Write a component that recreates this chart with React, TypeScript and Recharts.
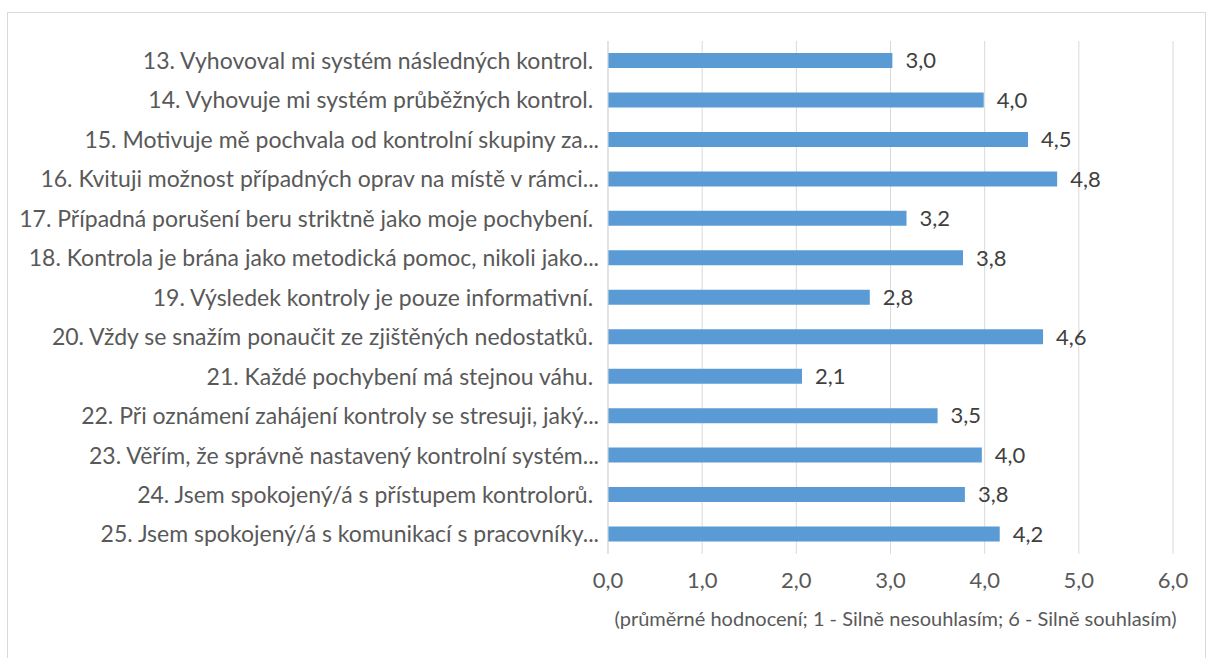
import { BarChart, Bar, XAxis, YAxis, CartesianGrid, LabelList } from 'recharts'

const categories = [
  '13. Vyhovoval mi systém následných kontrol.\u00a0',
  '14. Vyhovuje mi systém průběžných kontrol.\u00a0',
  '15. Motivuje mě pochvala od kontrolní skupiny za...',
  '16. Kvituji možnost případných oprav na místě v rámci...',
  '17. Případná porušení beru striktně jako moje pochybení.\u00a0',
  '18. Kontrola je brána jako metodická pomoc, nikoli jako...',
  '19. Výsledek kontroly je pouze informativní.\u00a0',
  '20. Vždy se snažím ponaučit ze zjištěných nedostatků.\u00a0',
  '21. Každé pochybení má stejnou váhu.\u00a0',
  '22. Při oznámení zahájení kontroly se stresuji, jaký...',
  '23. Věřím, že správně nastavený kontrolní systém...',
  '24. Jsem spokojený/á s přístupem kontrolorů.\u00a0',
  '25. Jsem spokojený/á s komunikací s pracovníky...',
]

const scores = [3.02, 3.99, 4.46, 4.77, 3.17, 3.77, 2.78, 4.62, 2.06, 3.5, 3.97, 3.79, 4.16]

const xTicks = [0, 1, 2, 3, 4, 5, 6]

const axisTitle = '(průměrné hodnocení; 1 - Silně nesouhlasím; 6 - Silně souhlasím)'

const data = categories.map((name, i) => ({ name, score: scores[i] }))

const fmt = (v: unknown) => Number(v).toFixed(1).replace('.', ',')

const font = 'Lato, "Open Sans", sans-serif'

export default function App() {
  return (
    <div style={{
      position: 'absolute', left: 7, top: 12, width: 1197, height: 660,
      border: '1px solid #d9d9d9', background: '#fff', fontFamily: font,
    }}>
      <BarChart
        width={1196}
        height={640}
        data={data}
        layout="vertical"
        margin={{ top: 28, right: 31, bottom: 29, left: 0 }}
      >
        <CartesianGrid horizontal={false} stroke="#d9d9d9" />
        <XAxis
          type="number"
          domain={[0, 6]}
          ticks={xTicks}
          tickFormatter={fmt}
          axisLine={false}
          tickLine={false}
          tickSize={0}
          tickMargin={18}
          height={70}
          tick={{ fontSize: 22, fill: '#595959', fontFamily: font }}
          label={{ value: axisTitle, position: 'insideBottom', offset: -2, dx: 5, fontSize: 20, fill: '#595959', fontFamily: font }}
        />
        <YAxis
          type="category"
          dataKey="name"
          width={600}
          interval={0}
          axisLine={{ stroke: '#d9d9d9' }}
          tickLine={false}
          tickSize={0}
          tickMargin={9}
          tick={{ fontSize: 23, fill: '#595959', fontFamily: font }}
        />
        <Bar dataKey="score" fill="#5b9bd5" barSize={15} isAnimationActive={false}>
          <LabelList dataKey="score" position="right" offset={13} formatter={fmt} style={{ fontSize: 22, fill: '#404040', fontFamily: font }} />
        </Bar>
      </BarChart>
    </div>
  )
}
